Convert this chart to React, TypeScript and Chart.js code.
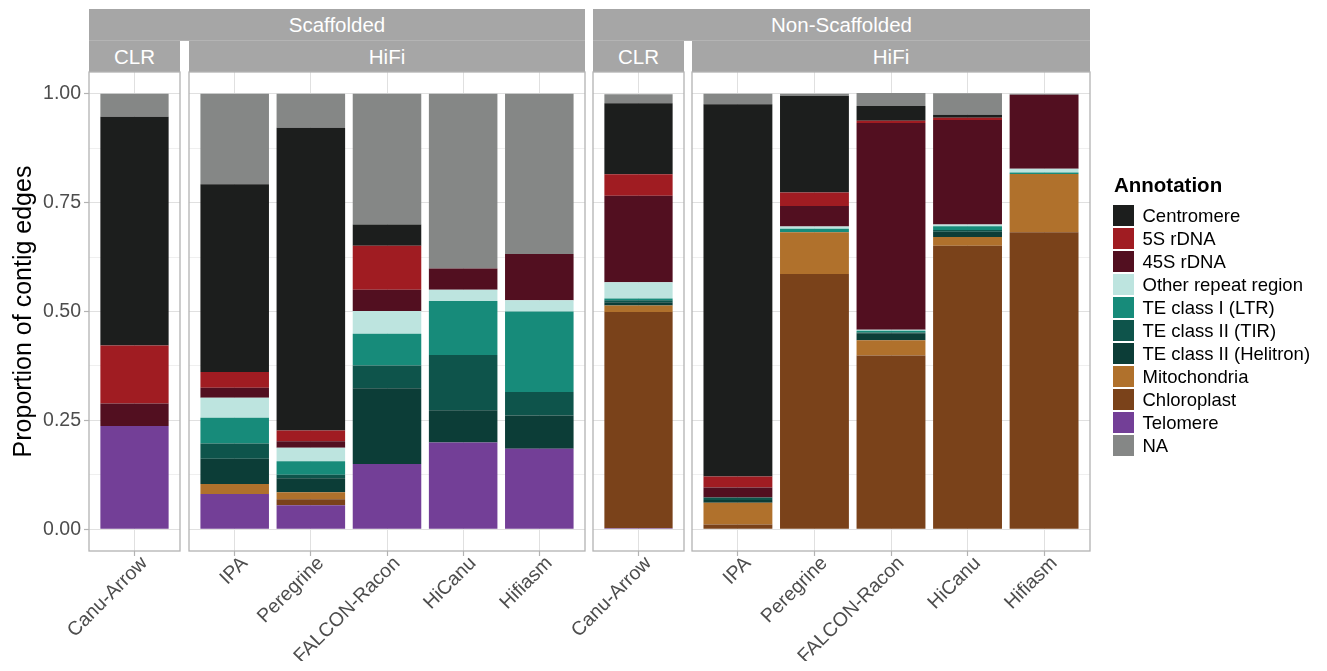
import React, { useEffect, useRef } from "react";
import { Chart, registerables } from "chart.js";

Chart.register(...registerables);

// ---------------- data ----------------
const assemblers = ["Canu-Arrow", "IPA", "Peregrine", "FALCON-Racon", "HiCanu", "Hifiasm", "Canu-Arrow", "IPA", "Peregrine", "FALCON-Racon", "HiCanu", "Hifiasm"];
const scaffolding = ["Scaffolded", "Scaffolded", "Scaffolded", "Scaffolded", "Scaffolded", "Scaffolded", "Non-Scaffolded", "Non-Scaffolded", "Non-Scaffolded", "Non-Scaffolded", "Non-Scaffolded", "Non-Scaffolded"];
const technology = ["CLR", "HiFi", "HiFi", "HiFi", "HiFi", "HiFi", "CLR", "HiFi", "HiFi", "HiFi", "HiFi", "HiFi"];

const centromere = [0.525, 0.431, 0.695, 0.049, 0, 0, 0.163, 0.855, 0.222, 0.034, 0.007, 0];
const rdna5S = [0.133, 0.036, 0.025, 0.101, 0, 0, 0.049, 0.025, 0.031, 0.005, 0.005, 0];
const rdna45S = [0.052, 0.023, 0.015, 0.049, 0.049, 0.106, 0.199, 0.023, 0.047, 0.475, 0.24, 0.17];
const otherRepeat = [0, 0.046, 0.031, 0.052, 0.026, 0.026, 0.037, 0, 0.005, 0.002, 0.004, 0.009];
const teLTR = [0, 0.059, 0.031, 0.073, 0.124, 0.185, 0.004, 0, 0.008, 0.004, 0.009, 0.003];
const teTIR = [0, 0.035, 0.008, 0.052, 0.127, 0.054, 0.005, 0.006, 0, 0.002, 0.004, 0];
const teHelitron = [0, 0.058, 0.032, 0.174, 0.074, 0.076, 0.007, 0.006, 0, 0.016, 0.012, 0];
const mitochondria = [0, 0.023, 0.016, 0, 0, 0, 0.015, 0.05, 0.096, 0.035, 0.02, 0.134];
const chloroplast = [0, 0, 0.014, 0, 0, 0, 0.497, 0.011, 0.586, 0.399, 0.65, 0.682];
const telomere = [0.237, 0.081, 0.055, 0.15, 0.199, 0.185, 0.002, 0, 0, 0, 0.001, 0];
const unannotated = [0.053, 0.208, 0.078, 0.3, 0.401, 0.368, 0.021, 0.024, 0.005, 0.03, 0.049, 0.002];

const yTicks = [0, 0.125, 0.25, 0.375, 0.5, 0.625, 0.75, 0.875, 1];

const legendNames = ["Centromere", "5S rDNA", "45S rDNA", "Other repeat region", "TE class I (LTR)", "TE class II (TIR)", "TE class II (Helitron)", "Mitochondria", "Chloroplast", "Telomere", "NA"];
const legendColors = ["#1c1e1d", "#a01c22", "#520f20", "#bde4df", "#178b7a", "#0e544b", "#0c3d37", "#b0712c", "#7a421a", "#733f97", "#858786"];
const seriesValues = [centromere, rdna5S, rdna45S, otherRepeat, teLTR, teTIR, teHelitron, mitochondria, chloroplast, telomere, unannotated];
// stacking order, bottom -> top
const stackOrder = ["Telomere", "Chloroplast", "Mitochondria", "TE class II (Helitron)", "TE class II (TIR)", "TE class I (LTR)", "Other repeat region", "45S rDNA", "5S rDNA", "Centromere", "NA"];

// ---------------- layout ----------------
const W = 1327;
const H = 671;
const FONT = '"Liberation Sans", Arial, Helvetica, sans-serif';
const PANEL_TOP = 72;
const PANEL_BOTTOM = 551;
const X_AXIS_H = 110;
const Y_AXIS_W = 81;
const panelBoxes = [
  [89, 180],
  [189, 585],
  [593, 684],
  [692, 1090],
];

type Panel = { scaff: string; tech: string; idx: number[] };
function buildPanels(): Panel[] {
  const out: Panel[] = [];
  assemblers.forEach((_, i) => {
    const last = out[out.length - 1];
    if (last && last.scaff === scaffolding[i] && last.tech === technology[i]) last.idx.push(i);
    else out.push({ scaff: scaffolding[i], tech: technology[i], idx: [i] });
  });
  return out;
}
const panels = buildPanels();

const isMajor = (v: number) => Math.abs(v * 4 - Math.round(v * 4)) < 1e-6;

const panelBorder = {
  id: "panelBorder",
  afterDatasetsDraw(chart: any) {
    const { ctx, chartArea: a } = chart;
    ctx.save();
    ctx.strokeStyle = "#b3b3b3";
    ctx.lineWidth = 1.3;
    ctx.strokeRect(a.left, a.top, a.right - a.left, a.bottom - a.top);
    ctx.restore();
  },
};

function makeChart(canvas: HTMLCanvasElement, p: number) {
  const panel = panels[p];
  const labels = panel.idx.map((i) => assemblers[i]);
  const n = labels.length;
  const first = p === 0;
  const [left, right] = panelBoxes[p];
  const datasets = stackOrder.map((name) => {
    const k = legendNames.indexOf(name);
    return {
      label: name,
      data: panel.idx.map((i, j) => ({ x: j, y: seriesValues[k][i] })),
      backgroundColor: legendColors[k],
      borderWidth: 0,
      barPercentage: n === 1 ? 0.75 : 0.9,
      categoryPercentage: 1,
    };
  });
  return new Chart(canvas, {
    type: "bar",
    data: { datasets } as any,
    options: {
      animation: false,
      responsive: false,
      maintainAspectRatio: false,
      devicePixelRatio: 1,
      layout: {
        padding: {
          left: left - (first ? Y_AXIS_W : 0),
          right: W - right,
          top: PANEL_TOP,
          bottom: H - PANEL_BOTTOM - X_AXIS_H,
        },
      },
      plugins: { legend: { display: false }, tooltip: { enabled: false } },
      scales: {
        x: {
          type: "linear",
          stacked: true,
          min: -0.6,
          max: n - 0.4,
          offset: false,
          afterBuildTicks: (s: any) => {
            s.ticks = labels.map((_, j) => ({ value: j }));
          },
          afterFit: (s: any) => {
            s.height = X_AXIS_H;
          },
          border: { display: false },
          grid: {
            offset: false,
            color: "#e0e0e0",
            lineWidth: 1,
            drawTicks: true,
            tickLength: 5,
            tickColor: "#b3b3b3",
            tickWidth: 1.2,
          },
          ticks: {
            autoSkip: false,
            minRotation: 45,
            maxRotation: 45,
            padding: -4,
            labelOffset: 10,
            color: "#4d4d4d",
            font: { family: FONT, size: 19.5 },
            callback: (v: any) => labels[v as number] ?? "",
          },
        },
        y: {
          type: "linear",
          stacked: true,
          min: -0.05,
          max: 1.05,
          beginAtZero: false,
          afterBuildTicks: (s: any) => {
            s.ticks = yTicks.map((v) => ({ value: v }));
          },
          afterFit: (s: any) => {
            s.width = first ? Y_AXIS_W : 0;
          },
          border: { display: false },
          grid: {
            color: (c: any) => (isMajor(c.tick.value) ? "#e0e0e0" : "#efefef"),
            lineWidth: 1,
            drawTicks: first,
            tickLength: 5,
            tickColor: (c: any) => (isMajor(c.tick.value) ? "#b3b3b3" : "rgba(0,0,0,0)"),
            tickWidth: 1.2,
          },
          ticks: {
            display: first,
            padding: 3,
            color: "#4d4d4d",
            font: { family: FONT, size: 19.5 },
            callback: (v: any) => (isMajor(v as number) ? (v as number).toFixed(2) : ""),
          },
          title: {
            display: first,
            text: "Proportion of contig edges",
            color: "#000000",
            font: { family: FONT, size: 25 },
            padding: { top: 1, bottom: 0 },
          },
        },
      },
    } as any,
    plugins: [panelBorder],
  });
}

function ChartLayer({ p }: { p: number }) {
  const ref = useRef<HTMLCanvasElement | null>(null);
  useEffect(() => {
    if (!ref.current) return;
    const c = makeChart(ref.current, p);
    return () => c.destroy();
  }, [p]);
  return <canvas ref={ref} width={W} height={H} style={{ position: "absolute", left: 0, top: 0, width: W, height: H }} />;
}

const STRIP_BG = "#a6a6a6";

export default function App() {
  // outer strip groups
  const groups: { name: string; left: number; right: number }[] = [];
  panels.forEach((pn, i) => {
    const last = groups[groups.length - 1];
    if (last && last.name === pn.scaff) last.right = panelBoxes[i][1];
    else groups.push({ name: pn.scaff, left: panelBoxes[i][0], right: panelBoxes[i][1] });
  });
  return (
    <div style={{ position: "absolute", left: 0, top: 0, width: W, height: H, background: "#ffffff", overflow: "hidden", fontFamily: FONT }}>
      {groups.map((g, i) => (
        <div
          key={"g" + i}
          style={{
            position: "absolute",
            left: g.left,
            top: 9,
            width: g.right - g.left,
            height: 32,
            boxSizing: "border-box",
            borderBottom: "1px solid #b4b4b4",
            background: STRIP_BG,
            color: "#ffffff",
            fontSize: 20.5,
            display: "flex",
            alignItems: "center",
            justifyContent: "center",
          }}
        >
          {g.name}
        </div>
      ))}
      {panels.map((pn, i) => (
        <div
          key={"s" + i}
          style={{
            position: "absolute",
            left: panelBoxes[i][0],
            top: 41,
            width: panelBoxes[i][1] - panelBoxes[i][0],
            height: 31,
            background: STRIP_BG,
            color: "#ffffff",
            fontSize: 20.5,
            display: "flex",
            alignItems: "center",
            justifyContent: "center",
          }}
        >
          {pn.tech}
        </div>
      ))}
      {panels.map((_, i) => (
        <ChartLayer key={"c" + i} p={i} />
      ))}
      <div style={{ position: "absolute", left: 1114, top: 175, fontWeight: "bold", fontSize: 20.5, lineHeight: "1", color: "#000" }}>Annotation</div>
      {legendNames.map((name, k) => (
        <div key={name} style={{ position: "absolute", left: 1113, top: 205 + 23 * k, height: 21, display: "flex", alignItems: "center" }}>
          <span style={{ display: "inline-block", width: 21, height: 21, background: legendColors[k] }} />
          <span style={{ marginLeft: 8.5, fontSize: 18.5, color: "#000", whiteSpace: "nowrap" }}>{name}</span>
        </div>
      ))}
    </div>
  );
}
